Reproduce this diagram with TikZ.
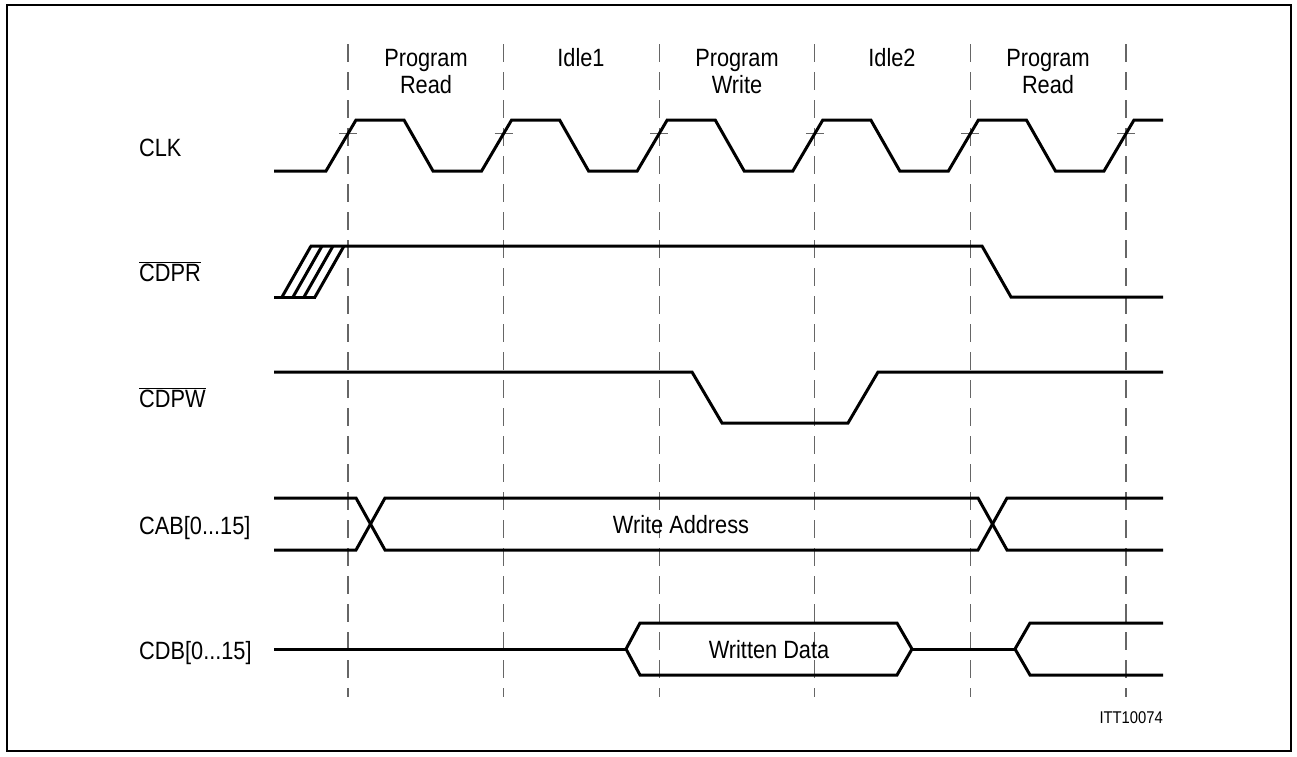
\documentclass[tikz,border=0pt]{standalone}
\usepackage{fontspec}
\setmainfont{Liberation Sans}[FakeStretch=0.87]
\begin{document}
\begin{tikzpicture}[x=1pt,y=-1pt,
  sig/.style={line width=3pt},
  gridline/.style={black!60, line width=1.1pt, dash pattern=on 18pt off 10pt},
  tick/.style={black!60, line width=1pt},
  lbl/.style={font=\fontsize{25}{28}\selectfont, inner sep=0pt},
  small/.style={font=\fontsize{17}{19}\selectfont, inner sep=0pt}]
\useasboundingbox (0,0) rectangle (1297,756);
\draw[line width=2pt] (7,5) rectangle (1291,751);
% dashed phase lines and clock ticks
\foreach \i/\d in {1/348,2/503.6,3/659.2,4/814.8,5/970.4,6/1126}{
  \coordinate (t\i) at (\d,44);
  \coordinate (b\i) at (\d,697);
  \draw[gridline] (t\i) -- (b\i);
  \draw[tick] (\d-9,133) -- (\d+9,133);
}
% phase labels
\node[lbl,anchor=base] (p1a) at (426,66) {Program};
\node[lbl,anchor=base] (p1b) at (426,93) {Read};
\node[lbl,anchor=base] (p2) at (581,66) {Idle1};
\node[lbl,anchor=base] (p3a) at (737,66) {Program};
\node[lbl,anchor=base] (p3b) at (737,93) {Write};
\node[lbl,anchor=base] (p4) at (892,66) {Idle2};
\node[lbl,anchor=base] (p5a) at (1048,66) {Program};
\node[lbl,anchor=base] (p5b) at (1048,93) {Read};
% signal names
\node[lbl,anchor=base west] (nclk) at (139,156) {CLK};
\node[lbl,anchor=base west] (ncdpr) at (139,281) {$\overline{\mbox{CDPR}}$};
\node[lbl,anchor=base west] (ncdpw) at (139,407) {$\overline{\mbox{CDPW}}$};
\node[lbl,anchor=base west] (ncab) at (139,534) {CAB[0...15]};
\node[lbl,anchor=base west] (ncdb) at (139,659) {CDB[0...15]};
% CLK
\draw[sig] (274,171) -- (326,171) -- (356,120) -- (404,120) -- (433,171)
  -- (481.6,171) -- (511.6,120) -- (559.6,120) -- (588.6,171)
  -- (637.2,171) -- (667.2,120) -- (715.2,120) -- (744.2,171)
  -- (792.8,171) -- (822.8,120) -- (870.8,120) -- (899.8,171)
  -- (948.4,171) -- (978.4,120) -- (1026.4,120) -- (1055.4,171)
  -- (1104,171) -- (1134,120) -- (1163,120);
% CDPR
\draw[sig] (274,297) -- (316,297);
\draw[sig] (310,246) -- (982,246) -- (1011,297) -- (1163,297);
\foreach \k in {0,1,2,3}{
  \draw[sig] (282+11*\k,297) -- (311+11*\k,246);
}
% CDPW
\draw[sig] (274,372) -- (692,372) -- (722,423) -- (848,423) -- (878,372) -- (1163,372);
% CAB
\draw[sig] (274,498) -- (356,498) -- (385,550) -- (978,550) -- (1007,498) -- (1163,498);
\draw[sig] (274,550) -- (356,550) -- (385,498) -- (978,498) -- (1007,550) -- (1163,550);
\node[lbl,anchor=base] (wa) at (681,533) {Write Address};
% CDB
\draw[sig] (274,649) -- (626,649);
\draw[sig] (626,649) -- (640,623) -- (897,623) -- (912,649) -- (897,675) -- (640,675) -- cycle;
\draw[sig] (912,649) -- (1015,649);
\draw[sig] (1163,623) -- (1030,623) -- (1015,649) -- (1030,675) -- (1163,675);
\node[lbl,anchor=base] (wd) at (769,658) {Written Data};
\node[small,anchor=base east] (id) at (1163,723) {ITT10074};
\end{tikzpicture}
\end{document}
